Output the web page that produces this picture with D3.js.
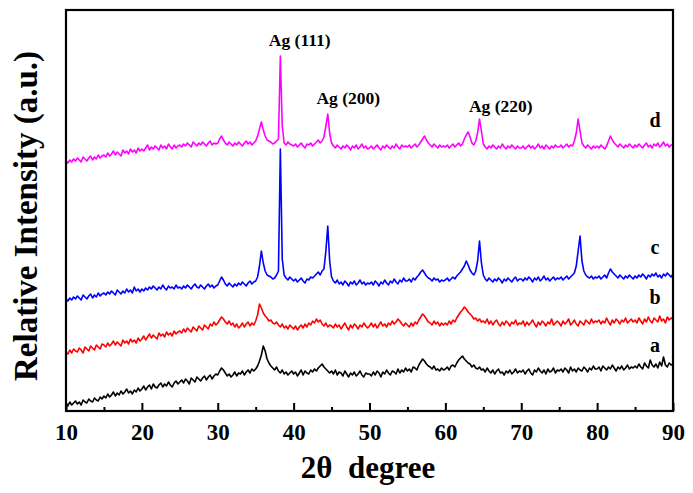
<!DOCTYPE html>
<html>
<head>
<meta charset="utf-8">
<script src="https://cdn.jsdelivr.net/npm/d3@7/dist/d3.min.js"></script>
<style>
html,body{margin:0;padding:0;background:#fff;}
svg{display:block;}
text{font-family:"Liberation Serif","Times New Roman",serif;font-weight:bold;fill:#000;}
</style>
</head>
<body>
<svg id="chart" width="693" height="493"></svg>
<script>
// 2θ grid: 10° to 90° in 0.25° steps (321 points per pattern)
const angleStart = 10, angleStep = 0.25;

const xTicks = [10, 20, 30, 40, 50, 60, 70, 80, 90];
const xMinorTicks = [15, 25, 35, 45, 55, 65, 75, 85];

const seriesNames = ["a", "b", "c", "d"];
const seriesColors = ["#000000", "#ff0000", "#0000ff", "#ff00ff"];

const peakLabels = ["Ag (111)", "Ag (200)", "Ag (220)"];
const peakLabelAngles = [40.8, 47.2, 67.3];
const peakLabelLevels = [365, 307, 299];

// intensity values (a.u.), rows of 5°
const seriesA = [
7,5,9,6,8,10,7,9,6,11,9,8,12,10,9,13,11,10,14,12,
15,13,17,14,16,19,15,18,16,20,17,19,22,18,20,17,21,19,23,20,
22,25,21,24,26,22,27,24,23,26,28,24,27,25,29,26,24,28,30,27,
29,31,28,32,30,27,33,31,29,34,32,30,33,35,31,34,36,32,35,37,
36,40,43,41,38,35,37,34,36,39,35,38,37,40,36,39,41,38,42,40,
42,45,50,56,65,60,52,48,45,43,41,44,40,38,41,37,39,36,38,40,
37,39,35,38,41,36,40,38,37,41,39,42,40,43,45,47,44,42,40,38,
40,37,41,36,39,38,35,40,37,34,38,36,39,35,37,40,36,34,38,37,
37,35,39,36,40,38,34,39,37,41,38,36,40,39,37,42,38,41,39,43,
40,42,39,44,43,41,46,49,52,50,47,45,44,42,45,41,42,40,43,41,
42,44,41,45,46,44,48,51,53,55,52,50,48,47,44,46,43,42,44,41,
42,39,43,40,38,41,37,40,42,38,39,36,40,38,41,37,39,42,38,40,
39,41,37,40,42,38,36,41,39,43,40,38,41,37,42,39,40,43,38,41,
40,42,39,43,41,38,44,40,42,39,43,41,40,44,42,39,43,41,45,42,
42,44,40,45,43,41,44,42,46,43,40,44,42,45,41,43,46,42,44,43,
45,43,47,44,42,48,45,43,51,46,44,47,43,49,45,54,46,44,48,46,
47];

const seriesB = [
59,57,61,58,62,60,59,63,61,58,64,62,60,65,63,61,66,64,62,67,
66,64,68,65,67,70,66,69,67,65,71,68,70,67,72,69,71,68,73,70,
72,75,71,74,77,73,76,74,72,78,75,77,74,79,76,78,75,80,77,79,
80,78,82,79,83,81,79,84,82,80,85,83,81,86,84,82,87,85,89,86,
88,91,94,92,89,87,90,86,88,84,87,83,85,88,84,87,89,85,88,86,
90,96,107,103,98,95,93,90,91,88,87,89,86,84,87,83,85,82,86,84,
82,85,81,84,86,83,87,84,88,86,90,88,92,89,91,87,85,88,84,86,
85,83,87,84,86,82,85,88,84,81,86,83,87,85,82,86,84,88,85,83,
85,88,84,87,83,86,89,85,87,84,88,86,90,87,89,92,90,87,85,88,
86,84,88,85,89,87,91,94,97,95,92,89,88,86,90,87,89,85,88,86,
88,86,90,87,91,89,93,96,99,101,104,102,99,97,95,92,93,90,92,89,
90,88,92,87,90,86,89,91,87,85,89,86,90,88,85,89,87,91,86,88,
87,90,85,89,86,88,91,87,84,89,86,90,88,85,89,87,92,86,88,90,
88,85,90,87,89,92,86,88,91,87,85,90,88,86,91,89,87,92,88,90,
89,91,87,90,88,93,89,86,91,88,92,90,87,91,89,93,88,90,92,89,
91,88,93,90,87,92,89,94,90,88,93,91,89,95,90,92,88,94,91,93,
92];

const seriesC = [
112,110,113,111,114,112,115,113,111,116,114,112,115,117,113,116,114,118,115,117,
118,116,119,117,120,118,116,121,119,117,120,118,122,119,121,118,124,120,122,119,
122,120,123,121,124,122,125,123,121,124,122,126,123,121,125,123,124,122,126,123,
124,122,125,123,126,124,122,125,127,124,123,126,124,122,125,127,124,126,123,125,
126,130,134,131,127,125,128,126,124,127,125,128,126,129,127,125,128,130,127,129,
130,134,145,160,148,140,136,135,134,132,133,136,140,262,152,136,133,131,134,132,
130,132,129,131,133,130,128,132,131,134,133,135,137,139,136,140,142,160,185,150,
134,130,128,131,127,129,126,130,128,125,129,127,130,126,128,131,127,129,126,128,
127,129,126,130,128,125,129,127,131,128,126,130,128,132,129,127,131,129,133,130,
130,132,129,133,131,134,136,139,141,138,135,133,132,130,133,131,132,129,131,130,
131,133,130,132,134,132,135,137,139,142,145,150,146,141,138,136,140,150,170,148,
136,132,130,133,131,129,132,130,133,131,128,132,130,133,131,129,132,134,130,132,
132,130,133,131,134,132,129,133,131,134,130,132,135,131,133,130,132,134,131,133,
132,134,131,133,135,132,134,136,138,145,160,175,150,140,136,134,133,135,132,134,
133,135,132,134,136,133,138,142,139,137,135,133,136,134,132,135,133,136,134,132,
135,133,136,134,137,135,132,136,134,137,135,138,134,136,133,137,135,138,136,134,
137];

const seriesD = [
250,248,251,249,252,250,253,251,249,254,252,250,253,255,251,254,252,256,253,255,
256,254,258,255,257,260,256,259,257,255,261,258,260,257,262,259,261,258,263,260,
262,260,263,266,261,264,262,265,263,261,266,263,265,262,267,264,262,266,263,265,
266,264,267,265,268,266,264,269,267,265,268,266,269,267,265,268,270,266,268,267,
268,272,275,271,268,266,269,267,265,268,266,269,267,265,268,270,267,269,266,268,
270,275,282,289,281,275,271,270,269,267,268,270,272,355,285,268,266,269,267,266,
265,267,264,266,268,265,263,267,266,268,265,267,269,271,268,270,274,285,297,278,
268,265,263,266,264,262,265,263,266,264,261,265,263,266,262,264,267,263,265,262,
263,265,262,264,266,263,261,265,263,266,264,262,265,263,267,264,262,266,264,265,
264,266,263,265,267,264,266,269,272,275,271,268,266,264,267,265,263,266,264,265,
264,266,263,265,267,264,266,268,265,267,272,276,279,274,268,266,270,278,292,280,
267,264,262,265,263,266,264,262,265,263,267,264,262,265,263,266,264,262,265,263,
263,265,262,264,266,263,265,262,264,267,263,265,262,266,264,262,265,263,266,264,
264,266,263,265,267,264,266,265,270,278,292,280,268,265,263,266,264,262,265,263,
265,263,266,264,262,265,270,275,271,268,266,264,267,265,263,266,264,267,265,263,
266,264,267,265,263,266,268,264,266,263,267,265,268,264,266,269,265,267,264,266,
266];

const seriesValues = [seriesA, seriesB, seriesC, seriesD];
const seriesLabelLevels = [59, 107, 157, 284];

const svg = d3.select("#chart");
const plotLeft = 66, plotRight = 673, plotTop = 10, plotBottom = 411;

const x = d3.scaleLinear().domain([10, 90]).range([plotLeft, plotRight]);
const y = d3.scaleLinear().domain([0, 401]).range([plotBottom, plotTop]);

const line = d3.line()
  .x((d, i) => x(angleStart + i * angleStep))
  .y(d => y(d));

const g = svg.append("g");
seriesValues.forEach((vals, k) => {
  g.append("path")
    .datum(vals)
    .attr("fill", "none")
    .attr("stroke", seriesColors[k])
    .attr("stroke-width", 1.6)
    .attr("stroke-linejoin", "round")
    .attr("d", line);
});

// frame
svg.append("rect")
  .attr("x", plotLeft).attr("y", plotTop)
  .attr("width", plotRight - plotLeft).attr("height", plotBottom - plotTop)
  .attr("fill", "none").attr("stroke", "#000").attr("stroke-width", 2.2);

// bottom axis: major ticks (labeled) and minor ticks, pointing inward
const axisMajor = d3.axisBottom(x).tickValues(xTicks).tickSize(-8).tickFormat(d3.format("d"));
const gx = svg.append("g").attr("transform", `translate(0,${plotBottom})`).call(axisMajor);
gx.select(".domain").remove();
gx.selectAll(".tick line").attr("stroke", "#000").attr("stroke-width", 2);
gx.selectAll(".tick text")
  .attr("y", 29)
  .attr("dy", 0)
  .style("font-family", '"Liberation Serif","Times New Roman",serif')
  .style("font-weight", "bold")
  .style("font-size", "23px")
  .attr("fill", "#000");

const axisMinor = d3.axisBottom(x).tickValues(xMinorTicks).tickSize(-4).tickFormat("");
const gm = svg.append("g").attr("transform", `translate(0,${plotBottom})`).call(axisMinor);
gm.select(".domain").remove();
gm.selectAll(".tick line").attr("stroke", "#000").attr("stroke-width", 2);

// axis titles
svg.append("text")
  .attr("x", 368).attr("y", 478)
  .attr("text-anchor", "middle")
  .style("font-size", "31px")
  .style("white-space", "pre")
  .text("2θ  degree");

svg.append("text")
  .attr("transform", "translate(37,216) rotate(-90)")
  .attr("text-anchor", "middle")
  .style("font-size", "33px")
  .text("Relative Intensity (a.u.)");

// peak labels
peakLabels.forEach((t, i) => {
  svg.append("text")
    .attr("x", x(peakLabelAngles[i]))
    .attr("y", y(peakLabelLevels[i]))
    .attr("text-anchor", "middle")
    .style("font-size", "17.5px")
    .text(t);
});

// series labels
seriesNames.forEach((t, k) => {
  svg.append("text")
    .attr("x", 655)
    .attr("y", y(seriesLabelLevels[k]))
    .attr("text-anchor", "middle")
    .style("font-size", "20px")
    .text(t);
});
</script>
</body>
</html>
